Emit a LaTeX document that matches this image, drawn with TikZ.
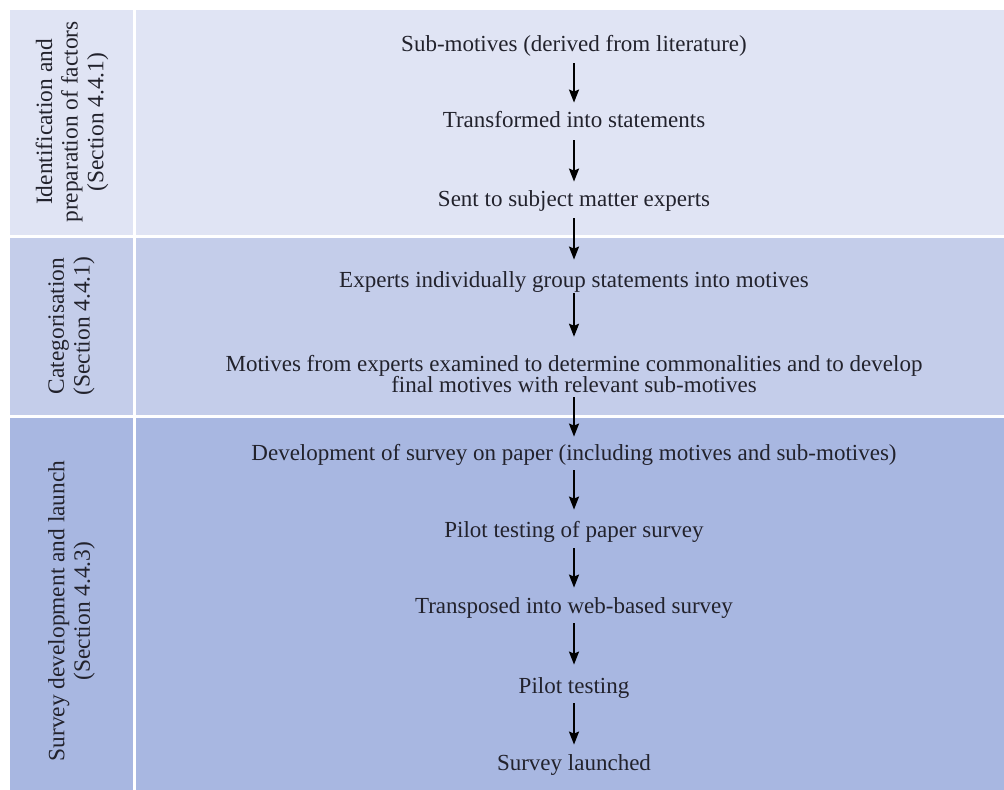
\documentclass[tikz,border=0pt]{standalone}
\usepackage{fontspec}
\setmainfont{Liberation Serif}
\usetikzlibrary{arrows.meta}

\definecolor{bandA}{RGB}{224,228,244}
\definecolor{bandB}{RGB}{196,205,234}
\definecolor{bandC}{RGB}{168,183,225}
\definecolor{inktext}{RGB}{34,34,44}

\tikzset{
  stage/.style={inner sep=0pt, text=inktext, font=\fontsize{11.5}{9.2}\selectfont,
                text height=7pt, text depth=2pt},
  stagetwo/.style={inner sep=0pt, text=inktext, align=center,
                font=\fontsize{11.5}{10.6}\selectfont},
  phase/.style={inner sep=0pt, text=inktext, rotate=90, align=center,
                font=\fontsize{11.7}{12.8}\selectfont},
  flow/.style={line width=1pt, -{Stealth[length=6.5pt,width=5pt,inset=1pt]}},
}

\begin{document}
% let tightly set lines keep their baseline distance
\setlength{\lineskiplimit}{-20pt}
\begin{tikzpicture}[x=0.5pt,y=-0.5pt]
\useasboundingbox (0,0) rectangle (1004,790);

% background bands: phase column on the left, process column on the right
\fill[bandA] (10,10)   rectangle (133,235);
\fill[bandA] (136,10)  rectangle (1004,235);
\fill[bandB] (10,238)  rectangle (133,415);
\fill[bandB] (136,238) rectangle (1004,415);
\fill[bandC] (10,418)  rectangle (133,790);
\fill[bandC] (136,418) rectangle (1004,790);

% phase labels
\node[phase] (p1) at (72,122) {Identification and\\preparation of factors\\(Section 4.4.1)};
\node[phase] (p2) at (71.5,326) {Categorisation\\(Section 4.4.1)};
\node[phase] (p3) at (71.5,611) {Survey development and launch\\(Section 4.4.3)};

% process steps
\node[stage] (n1)  at (574,47)  {Sub-motives (derived from literature)};
\node[stage] (n2)  at (574,123) {Transformed into statements};
\node[stage] (n3)  at (574,202) {Sent to subject matter experts};
\node[stage] (n4)  at (574,283) {Experts individually group statements into motives};
\node[stagetwo] (n5) at (574,374) {Motives from experts examined to determine commonalities and to develop\\final motives with relevant sub-motives};
\node[stage] (n6)  at (574,455) {Development of survey on paper (including motives and sub-motives)};
\node[stage] (n7)  at (574,532) {Pilot testing of paper survey};
\node[stage] (n8)  at (574,608) {Transposed into web-based survey};
\node[stage] (n9)  at (574,688) {Pilot testing};
\node[stage] (n10) at (574,765) {Survey launched};

% connectors
\draw[flow, shorten <=3.5pt, shorten >=5.5pt] (n1.south) -- (n2.north);
\draw[flow, shorten <=4pt,   shorten >=5.5pt] (n2.south) -- (n3.north);
\draw[flow, shorten <=3.5pt, shorten >=7pt]   (n3.south) -- (n4.north);
\draw[flow, shorten <=0.5pt, shorten >=9pt]   (n4.south) -- (n5.north);
\draw[flow, shorten <=2pt,   shorten >=4.5pt] (n5.south) -- (n6.north);
\draw[flow, shorten <=3pt,   shorten >=6.5pt] (n6.south) -- (n7.north);
\draw[flow, shorten <=3.5pt, shorten >=5.5pt] (n7.south) -- (n8.north);
\draw[flow, shorten <=3pt,   shorten >=7pt]   (n8.south) -- (n9.north);
\draw[flow, shorten <=3pt,   shorten >=5.5pt] (n9.south) -- (n10.north);
\end{tikzpicture}
\end{document}
